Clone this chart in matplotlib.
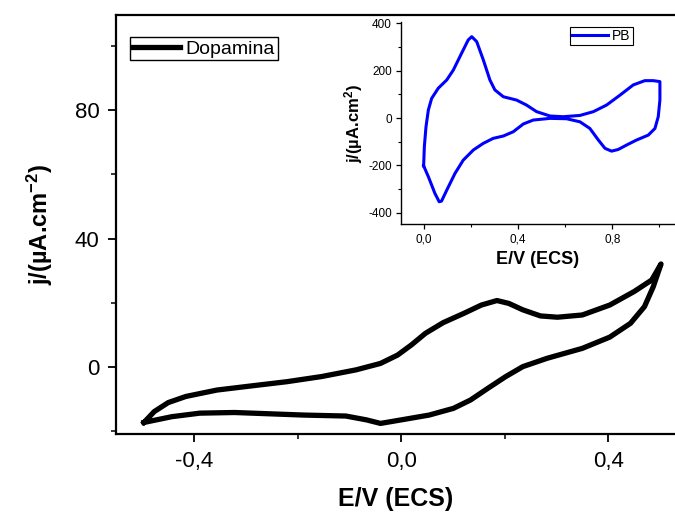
import matplotlib
matplotlib.use("Agg")
import matplotlib.pyplot as plt
from matplotlib.ticker import FixedLocator

plt.rcParams['font.family'] = ['Liberation Sans', 'DejaVu Sans']
plt.rcParams['mathtext.fontset'] = 'custom'
plt.rcParams['mathtext.rm'] = 'Liberation Sans'
plt.rcParams['mathtext.bf'] = 'Liberation Sans:bold'
plt.rcParams['mathtext.default'] = 'bf'

# ---------------- data: main CV (Dopamina) ----------------
dop_E = [-0.497, -0.477, -0.45, -0.416, -0.356, -0.289, -0.221, -0.154, -0.087, -0.04,
         -0.007, 0.02, 0.047, 0.081, 0.121, 0.155, 0.185, 0.208, 0.235, 0.269,
         0.302, 0.35, 0.403, 0.45, 0.484, 0.502,
         0.487, 0.47, 0.443, 0.403, 0.35, 0.282, 0.235, 0.202, 0.168, 0.134,
         0.101, 0.054, 0.0, -0.04, -0.067, -0.107, -0.188, -0.255, -0.322,
         -0.389, -0.443, -0.497]
dop_j = [-17.3, -13.9, -11.1, -9.2, -7.2, -5.9, -4.6, -3.0, -0.9, 1.1,
         3.7, 6.9, 10.5, 13.8, 16.7, 19.3, 20.7, 19.8, 17.8, 15.9,
         15.5, 16.2, 19.3, 23.5, 27.1, 32.1,
         25.0, 18.8, 13.6, 9.3, 5.8, 2.7, 0.1, -3.0, -6.6, -10.3,
         -12.9, -15.0, -16.5, -17.6, -16.5, -15.3, -15.0, -14.6, -14.2,
         -14.4, -15.5, -17.3]

# ---------------- data: inset CV (PB) ----------------
pb_E = [0.0, 0.003, 0.01, 0.02, 0.034, 0.062, 0.098, 0.126, 0.161, 0.189, 0.204,
        0.225, 0.253, 0.281, 0.302, 0.338, 0.394, 0.436, 0.479, 0.536, 0.592,
        0.663, 0.72, 0.776, 0.833, 0.889, 0.938, 0.974, 1.002,
        1.002, 0.995, 0.981, 0.953, 0.903, 0.861, 0.825, 0.797, 0.769, 0.741,
        0.705, 0.663, 0.606, 0.536, 0.465, 0.423, 0.38, 0.338, 0.295, 0.253,
        0.211, 0.168, 0.133, 0.098, 0.076, 0.066, 0.048, 0.02, 0.0]
pb_j = [-202, -121, -37, 34, 83, 126, 161, 203, 274, 330, 344,
        323, 246, 161, 119, 90, 76, 55, 27, 8.5, 5.6,
        11, 27, 55, 97, 140, 158, 158, 154,
        76, 6, -44, -72, -93, -114, -133, -140, -128, -93,
        -44, -16, -3, -1.4, -8.5, -25, -58, -76, -86, -107,
        -135, -178, -234, -305, -351, -354, -319, -248, -202]

main_xticks = [-0.4, 0.0, 0.4]
main_xticklabels = ['-0,4', '0,0', '0,4']
main_xminor = [-0.2, 0.2]
main_yticks = [0, 40, 80]
main_yticklabels = ['0', '40', '80']
main_yminor = [-20, 20, 60, 100]

inset_xticks = [0.0, 0.4, 0.8]
inset_xticklabels = ['0,0', '0,4', '0,8']
inset_xminor = [0.2, 0.6, 1.0]
inset_yticks = [-400, -200, 0, 200, 400]
inset_yticklabels = ['-400', '-200', '0', '200', '400']
inset_yminor = [-300, -100, 100, 300]

W, H = 675, 516
fig = plt.figure(figsize=(W / 100, H / 100), dpi=100)

# main axes (pixel box: x 116..675, y 15..434)
ax = fig.add_axes([116 / W, 1 - 434 / H, (675 - 116) / W, (434 - 15) / H])
ax.plot(dop_E, dop_j, color='black', lw=3.8, solid_joinstyle='round', label='Dopamina')
ax.set_xlim(-0.551, 0.529)
ax.set_ylim(-20.9, 109.7)
ax.set_xticks(main_xticks)
ax.set_xticklabels(main_xticklabels)
ax.xaxis.set_minor_locator(FixedLocator(main_xminor))
ax.set_yticks(main_yticks)
ax.set_yticklabels(main_yticklabels)
ax.yaxis.set_minor_locator(FixedLocator(main_yminor))
ax.spines['right'].set_visible(False)
for s in ['left', 'bottom', 'top']:
    ax.spines[s].set_linewidth(1.6)
ax.tick_params(which='major', direction='out', length=6, width=1.3, labelsize=16, pad=6)
ax.tick_params(which='minor', direction='out', length=3.5, width=1.1)
ax.tick_params(axis='y', which='both', right=False)
ax.set_xlabel('E/V (ECS)', fontsize=18, fontweight='bold', labelpad=11)
ax.set_ylabel('j/(µA.cm$^{-2}$)', fontsize=17, fontweight='bold', labelpad=14)
leg = ax.legend(loc='upper left', bbox_to_anchor=((130 - 116) / 559, (434 - 37) / 419),
                borderaxespad=0, fontsize=14, handlelength=2.4, handletextpad=0.3,
                borderpad=0.15, fancybox=False, frameon=True, framealpha=1)
leg.get_frame().set_edgecolor('black')
leg.get_frame().set_linewidth(1.0)

# inset axes (pixel box: x 401..675, y 22..224)
ai = fig.add_axes([401 / W, 1 - 224 / H, (675 - 401) / W, (224 - 22) / H])
ai.plot(pb_E, pb_j, color='#0000ff', lw=2.2, solid_joinstyle='round', label='PB')
ai.set_xlim(-0.096, 1.066)
ai.set_ylim(-448, 406)
ai.set_xticks(inset_xticks)
ai.set_xticklabels(inset_xticklabels)
ai.xaxis.set_minor_locator(FixedLocator(inset_xminor))
ai.set_yticks(inset_yticks)
ai.set_yticklabels(inset_yticklabels)
ai.yaxis.set_minor_locator(FixedLocator(inset_yminor))
ai.spines['right'].set_visible(False)
ai.spines['top'].set_visible(False)
for s in ['left', 'bottom']:
    ai.spines[s].set_linewidth(1.0)
ai.tick_params(which='major', direction='out', length=3.5, width=0.9, labelsize=8.5, pad=3)
ai.tick_params(which='minor', direction='out', length=2, width=0.8)
ai.set_xlabel('E/V (ECS)', fontsize=13, fontweight='bold', labelpad=4)
ai.set_ylabel('j/(µA.cm$^{2}$)', fontsize=12, fontweight='bold', labelpad=2)
leg2 = ai.legend(loc='upper left', bbox_to_anchor=((570 - 401) / 274, (224 - 27) / 202),
                 borderaxespad=0, fontsize=10, handlelength=2.6, handletextpad=0.3,
                 borderpad=0.15, fancybox=False, frameon=True, framealpha=1)
leg2.get_frame().set_edgecolor('black')
leg2.get_frame().set_linewidth(0.8)

fig.savefig('out.png', dpi=100)
